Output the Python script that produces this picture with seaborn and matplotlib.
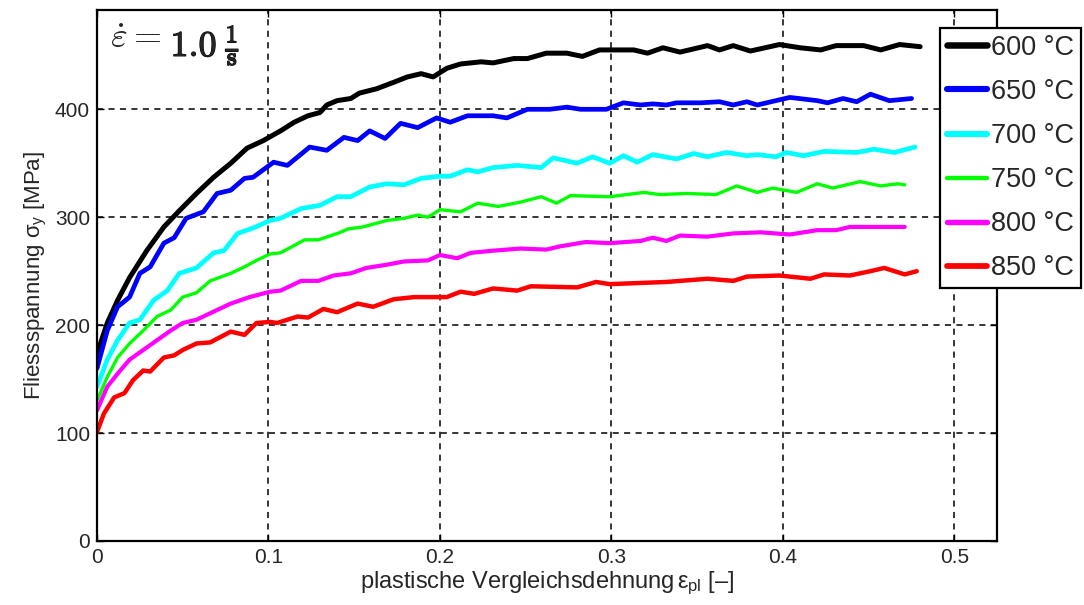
import numpy as np
import pandas as pd
import matplotlib
matplotlib.use("Agg")
import matplotlib.pyplot as plt
import matplotlib.patheffects as pe
import seaborn as sns
from matplotlib.lines import Line2D

# Fliesskurven bei 1.0 1/s
x_600 = [0, 0.002, 0.006, 0.012, 0.019, 0.029, 0.039, 0.048, 0.058, 0.068, 0.078, 0.0875, 0.097, 0.107, 0.115, 0.123, 0.130, 0.134, 0.140, 0.148, 0.153, 0.163, 0.173, 0.181, 0.189, 0.196, 0.204, 0.212, 0.224, 0.231, 0.243, 0.251, 0.262, 0.274, 0.283, 0.293, 0.313, 0.321, 0.330, 0.340, 0.356, 0.363, 0.371, 0.381, 0.398, 0.410, 0.422, 0.431, 0.447, 0.457, 0.468, 0.480]
y_600 = [165, 183, 202, 223, 244, 269, 291, 306, 322, 337, 350, 364, 371, 380, 388, 394, 397, 404, 408, 410, 415, 419, 425, 430, 433, 430, 438, 442, 444, 443, 447, 447, 452, 452, 449, 455, 455, 452, 457, 453, 459, 455, 459, 454, 460, 457, 455, 459, 459, 455, 460, 458]

x_650 = [0, 0.006, 0.012, 0.019, 0.025, 0.031, 0.039, 0.045, 0.052, 0.062, 0.070, 0.078, 0.086, 0.091, 0.097, 0.103, 0.111, 0.124, 0.134, 0.144, 0.152, 0.159, 0.168, 0.177, 0.187, 0.198, 0.206, 0.216, 0.231, 0.239, 0.251, 0.264, 0.274, 0.282, 0.297, 0.307, 0.317, 0.324, 0.332, 0.338, 0.352, 0.363, 0.371, 0.379, 0.385, 0.404, 0.420, 0.426, 0.435, 0.443, 0.451, 0.462, 0.475]
y_650 = [160, 195, 217, 226, 248, 254, 276, 281, 299, 305, 322, 325, 336, 337, 344, 351, 348, 365, 362, 374, 371, 380, 373, 387, 383, 392, 388, 394, 394, 392, 400, 400, 402, 400, 400, 406, 404, 405, 404, 406, 406, 407, 404, 407, 404, 411, 408, 406, 410, 407, 414, 408, 410]

x_700 = [0, 0.006, 0.012, 0.019, 0.025, 0.033, 0.041, 0.048, 0.058, 0.068, 0.074, 0.082, 0.091, 0.101, 0.107, 0.119, 0.130, 0.140, 0.148, 0.159, 0.169, 0.179, 0.189, 0.200, 0.206, 0.216, 0.222, 0.231, 0.245, 0.259, 0.266, 0.280, 0.289, 0.299, 0.307, 0.315, 0.324, 0.338, 0.348, 0.356, 0.367, 0.379, 0.385, 0.396, 0.402, 0.412, 0.424, 0.443, 0.453, 0.465, 0.477]
y_700 = [143, 168, 186, 202, 205, 223, 232, 248, 253, 267, 269, 285, 290, 297, 299, 308, 311, 319, 319, 328, 331, 330, 336, 338, 338, 344, 342, 346, 348, 346, 355, 350, 356, 350, 357, 351, 358, 354, 359, 356, 360, 357, 358, 356, 360, 357, 361, 360, 363, 360, 365]

x_750 = [0, 0.006, 0.012, 0.019, 0.027, 0.035, 0.043, 0.050, 0.058, 0.066, 0.078, 0.086, 0.093, 0.101, 0.107, 0.121, 0.129, 0.142, 0.146, 0.155, 0.169, 0.179, 0.187, 0.193, 0.200, 0.212, 0.222, 0.234, 0.247, 0.259, 0.268, 0.276, 0.299, 0.319, 0.328, 0.344, 0.361, 0.373, 0.385, 0.394, 0.408, 0.420, 0.429, 0.437, 0.445, 0.457, 0.467, 0.471]
y_750 = [130, 152, 170, 183, 195, 208, 214, 226, 230, 241, 248, 254, 260, 266, 267, 279, 279, 286, 289, 291, 297, 299, 302, 300, 307, 305, 313, 310, 314, 319, 313, 320, 319, 323, 321, 322, 321, 329, 323, 327, 323, 331, 327, 330, 333, 329, 331, 330]

x_800 = [0, 0.006, 0.012, 0.019, 0.027, 0.035, 0.043, 0.050, 0.058, 0.066, 0.078, 0.089, 0.101, 0.107, 0.119, 0.129, 0.138, 0.148, 0.157, 0.169, 0.179, 0.193, 0.200, 0.210, 0.218, 0.231, 0.247, 0.262, 0.270, 0.285, 0.299, 0.317, 0.324, 0.332, 0.340, 0.356, 0.371, 0.387, 0.404, 0.420, 0.431, 0.439, 0.453, 0.471]
y_800 = [121, 143, 155, 168, 177, 186, 195, 202, 205, 211, 220, 226, 231, 232, 241, 241, 246, 248, 253, 256, 259, 260, 265, 262, 267, 269, 271, 270, 273, 277, 276, 278, 281, 278, 283, 282, 285, 286, 284, 288, 288, 291, 291, 291]

x_850 = [0, 0.004, 0.010, 0.016, 0.021, 0.027, 0.031, 0.039, 0.045, 0.050, 0.058, 0.066, 0.078, 0.086, 0.093, 0.101, 0.105, 0.117, 0.123, 0.132, 0.140, 0.152, 0.161, 0.173, 0.185, 0.198, 0.204, 0.212, 0.220, 0.231, 0.245, 0.253, 0.280, 0.291, 0.299, 0.332, 0.356, 0.371, 0.379, 0.398, 0.416, 0.424, 0.439, 0.451, 0.459, 0.471, 0.478]
y_850 = [101, 118, 133, 137, 149, 158, 157, 170, 172, 177, 183, 184, 194, 191, 202, 203, 202, 208, 207, 215, 212, 220, 217, 224, 226, 226, 226, 231, 229, 234, 232, 236, 235, 240, 238, 240, 243, 241, 245, 246, 243, 247, 246, 250, 253, 247, 250]

temps = ["600 °C", "650 °C", "700 °C", "750 °C", "800 °C", "850 °C"]
xs = [x_600, x_650, x_700, x_750, x_800, x_850]
ys = [y_600, y_650, y_700, y_750, y_800, y_850]
colors = ["#000000", "#0000FF", "#00FFFF", "#00FF00", "#FF00FF", "#FF0000"]
widths = [3.6, 3.4, 3.4, 2.4, 3.0, 3.2]

sns.set_theme(style="ticks")
plt.rcParams.update({
    'font.family': ['Liberation Sans', 'DejaVu Sans'],
    'mathtext.fontset': 'custom',
    'mathtext.rm': 'Liberation Sans',
    'mathtext.it': 'Liberation Sans',
    'mathtext.bf': 'Liberation Sans:bold',
})

fig = plt.figure(figsize=(10.84, 6.05), dpi=100)
ax = fig.add_axes([97 / 1084, 1 - 541 / 605, 900 / 1084, 531 / 605])

for t, x, y, c, w in zip(temps, xs, ys, colors, widths):
    df = pd.DataFrame({'eps': x, 'sigma': y})
    sns.lineplot(data=df, x='eps', y='sigma', ax=ax, color=c, linewidth=w,
                 sort=False, estimator=None, legend=False)

ax.set_xlim(0, 0.5248)
ax.set_ylim(0, 492)
ax.set_xticks([0, 0.1, 0.2, 0.3, 0.4, 0.5])
ax.set_xticklabels(["0", "0.1", "0.2", "0.3", "0.4", "0.5"])
ax.set_yticks([0, 100, 200, 300, 400])
ax.tick_params(direction='in', top=True, right=True, labelsize=15, length=5,
               width=1, color='black', pad=5)
ax.grid(True, color='black', linestyle=(0, (4, 3.5)), linewidth=1.1)
for s in ax.spines.values():
    s.set_color('black')
    s.set_linewidth(1.6)

ax.set_xlabel(r"plastische Vergleichsdehnung$\,\varepsilon_{\rm pl}$ [–]", fontsize=17, labelpad=2)
ax.set_ylabel(r"Fliessspannung $\sigma_{\rm y}$ [MPa]", fontsize=16, labelpad=4)

# Dehnrate oben links: Symbol normal, Zahl und Einheit fett
t1 = ax.text(0.014, 0.928, r"$\dot{\varepsilon} =$", transform=ax.transAxes,
             ha='left', va='baseline', fontsize=26, math_fontfamily='cm')
ax.annotate(r"$\mathbf{1.0}\;\frac{\mathbf{1}}{\mathbf{s}}$", xy=(1, 0), xycoords=t1,
            xytext=(7, 0), textcoords='offset points', ha='left', va='baseline',
            fontsize=26, math_fontfamily='cm',
            path_effects=[pe.withStroke(linewidth=0.8, foreground='black')])

handles = [Line2D([], [], color=c, linewidth=w * 1.3) for c, w in zip(colors, widths)]
leg = ax.legend(handles, temps, loc='upper right', bbox_to_anchor=(1081 / 1084, 1 - 28 / 605),
                bbox_transform=fig.transFigure, fontsize=19.5, frameon=True, fancybox=False,
                framealpha=1, edgecolor='black', handlelength=1.5, handletextpad=0.15,
                borderpad=0.25, labelspacing=0.67, borderaxespad=0)
leg.get_frame().set_linewidth(1.6)

fig.savefig("out.png", dpi=100)
